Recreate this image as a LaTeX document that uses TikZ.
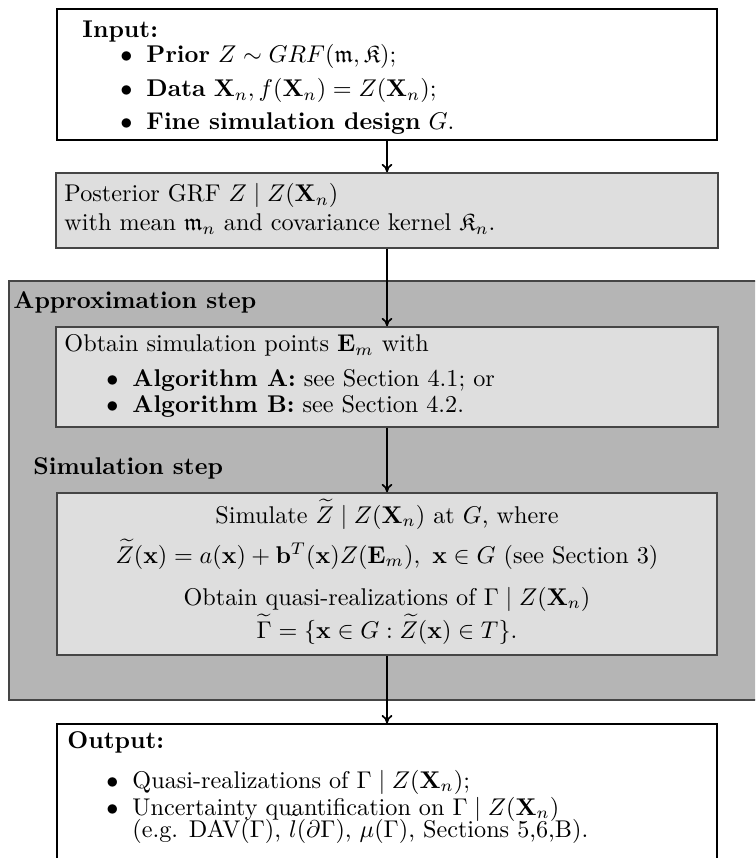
\documentclass[tikz,border=0pt]{standalone}
\usepackage{amsmath,amssymb}
\usetikzlibrary{fit,arrows.meta}
\definecolor{lightfill}{HTML}{DEDEDE}
\definecolor{darkfill}{HTML}{B5B5B5}
\definecolor{edgegray}{HTML}{454545}
\begin{document}
\begin{tikzpicture}[x=0.4132pt,y=-0.4132pt,
  whitebox/.style={draw=black, fill=white, line width=0.45pt, inner sep=0pt},
  greybox/.style={draw=edgegray, fill=lightfill, line width=0.6pt, inner sep=0pt},
  stagebox/.style={draw=edgegray, fill=darkfill, line width=0.7pt, inner sep=0pt},
  txt/.style={anchor=base west, inner sep=0pt},
  ctxt/.style={anchor=base, inner sep=0pt},
  bul/.style={anchor=base east, inner sep=0pt},
  arr/.style={-{To[length=3.5pt,width=4.5pt]}, line width=0.7pt}]
\useasboundingbox (0,0) rectangle (755,858);
\clip (0,0) rectangle (755,858);

% boxes
\node[whitebox, fit={(57,9) (717,140)}] (input) {};
\node[greybox, fit={(56,173) (718,248)}] (post) {};
\node[stagebox, fit={(9,281) (770,700)}] (stage) {};
\node[greybox, fit={(56,327) (718,427)}] (approx) {};
\node[greybox, fit={(57,493) (717,655)}] (sim) {};
\node[whitebox, fit={(57,724) (717,880)}] (output) {};

% input text
\node[txt] (inhead) at (82,38) {\textbf{Input:}};
\node[bul] (inb1) at (133,63) {$\bullet$};
\node[txt] (in1) at (146,63) {\textbf{Prior} $Z\sim GRF(\mathfrak{m},\mathfrak{K})$;};
\node[bul] (inb2) at (133,97) {$\bullet$};
\node[txt] (in2) at (146,97) {\textbf{Data} $\mathbf{X}_n, f(\mathbf{X}_n)=Z(\mathbf{X}_n)$;};
\node[bul] (inb3) at (133,130) {$\bullet$};
\node[txt] (in3) at (146,130) {\textbf{Fine simulation design} $G$.};

% posterior text
\node[txt] (post1) at (64,202) {Posterior GRF $Z\mid Z(\mathbf{X}_n)$};
\node[txt] (post2) at (64,231) {with mean $\mathfrak{m}_n$ and covariance kernel $\mathfrak{K}_n$.};

% stage labels
\node[txt] (apphead) at (13,309) {\textbf{Approximation step}};
\node[txt] (simhead) at (33,474) {\textbf{Simulation step}};

% approx text
\node[txt] (app0) at (64,352) {Obtain simulation points $\mathbf{E}_m$ with};
\node[bul] (appb1) at (119,387) {$\bullet$};
\node[txt] (app1) at (132,387) {\textbf{Algorithm A:} see Section 4.1; or};
\node[bul] (appb2) at (119,413) {$\bullet$};
\node[txt] (app2) at (132,413) {\textbf{Algorithm B:} see Section 4.2.};

% simulation text
\node[ctxt] (sim1) at (387,523) {Simulate $\widetilde{Z}\mid Z(\mathbf{X}_n)$ at $G$, where};
\node[ctxt] (sim2) at (387,563) {$\widetilde{Z}(\mathbf{x}) = a(\mathbf{x}) + \mathbf{b}^T(\mathbf{x})Z(\mathbf{E}_m),\ \mathbf{x}\in G$ (see Section 3)};
\node[ctxt] (sim3) at (387,605) {Obtain quasi-realizations of $\Gamma\mid Z(\mathbf{X}_n)$};
\node[ctxt] (sim4) at (387,638) {$\widetilde{\Gamma} = \{\mathbf{x}\in G : \widetilde{Z}(\mathbf{x})\in T\}$.};

% output text
\node[txt] (outhead) at (67,748) {\textbf{Output:}};
\node[bul] (outb1) at (119,788) {$\bullet$};
\node[txt] (out1) at (132,788) {Quasi-realizations of $\Gamma\mid Z(\mathbf{X}_n)$;};
\node[bul] (outb2) at (119,815) {$\bullet$};
\node[txt] (out2) at (132,815) {Uncertainty quantification on $\Gamma\mid Z(\mathbf{X}_n)$};
\node[txt] (out3) at (132,837) {(e.g. DAV$(\Gamma)$, $\tilde{l}(\partial\Gamma)$, $\mu(\Gamma)$, Sections 5,6,B).};

% connectors
\draw[arr] (input.south) -- (post.north);
\draw[arr] (post.south) -- (approx.north);
\draw[arr] (approx.south) -- (sim.north);
\draw[arr] (sim.south) -- (output.north);
\end{tikzpicture}
\end{document}
